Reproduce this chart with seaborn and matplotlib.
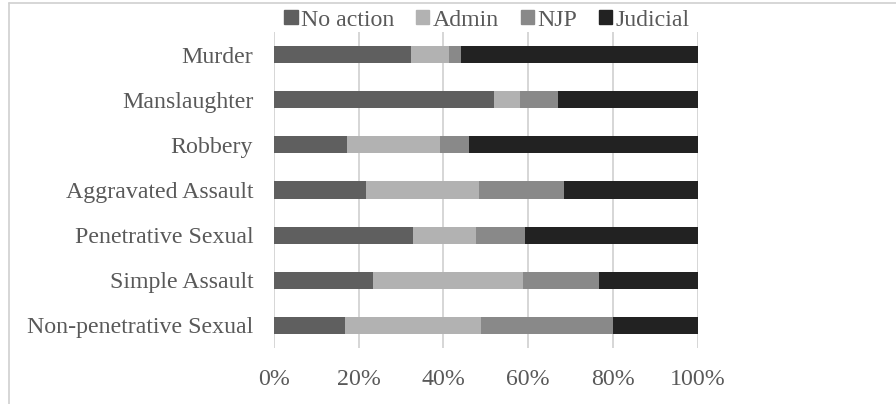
import matplotlib
matplotlib.use("Agg")
import matplotlib.pyplot as plt
import seaborn as sns
import pandas as pd
import numpy as np
from matplotlib.lines import Line2D
from matplotlib.patches import Patch

categories = ["Murder", "Manslaughter", "Robbery", "Aggravated Assault",
              "Penetrative Sexual", "Simple Assault", "Non-penetrative Sexual"]
no_action = [32.3, 51.9, 17.2, 21.8, 32.9, 23.4, 16.8]
admin     = [9.0, 6.2, 22.0, 26.5, 14.8, 35.3, 32.0]
njp       = [2.8, 8.9, 6.9, 20.1, 11.5, 17.9, 31.2]
judicial  = [55.9, 33.0, 53.9, 31.6, 40.8, 23.4, 20.0]
series_names = ["No action", "Admin", "NJP", "Judicial"]
tick_labels = ["0%", "20%", "40%", "60%", "80%", "100%"]

colors = ["#5f5f5f", "#b2b2b2", "#898989", "#222222"]

sns.set_theme(style="white")
plt.rcParams['font.family'] = ['Liberation Serif', 'DejaVu Serif']

fig = plt.figure(figsize=(8.96, 4.04), dpi=100)
ax = fig.add_axes([274/896, 1-348/404, (697.7-274)/896, (348-32)/404])

series = [no_action, admin, njp, judicial]
left = np.zeros(len(categories))
for i, (name, vals, c) in enumerate(zip(series_names, series, colors)):
    cum = left + np.array(vals)
    df = pd.DataFrame({"cat": categories, "cum": cum})
    sns.barplot(data=df, y="cat", x="cum", color=c, ax=ax, orient="h",
                width=0.38, order=categories, zorder=10 - i,
                linewidth=0, saturation=1)
    left = cum

ax.set_xlim(0, 100)
ax.set_ylim(6.5, -0.5)
ax.set_xticks([0, 20, 40, 60, 80, 100])
ax.set_xticklabels(tick_labels)
ax.set_xlabel("")
ax.set_ylabel("")
for s in ax.spines.values():
    s.set_visible(False)
ax.grid(axis="x", color="#d0d0d0", linewidth=1.2, zorder=0)
ax.set_axisbelow(True)
ax.tick_params(axis="both", length=0, labelsize=17.2, colors="#595959")
ax.tick_params(axis="x", pad=15)
ax.tick_params(axis="y", pad=15)
for lbl in ax.get_xticklabels() + ax.get_yticklabels():
    lbl.set_color("#595959")

handles = [Patch(facecolor=c, edgecolor=c) for c in colors]
fig.legend(handles, series_names, loc="center", bbox_to_anchor=(487/896, 1-20/404),
           ncol=4, frameon=False, fontsize=17.2, handlelength=0.55, handleheight=0.55,
           handletextpad=0.15, columnspacing=0.9, labelcolor="#595959")

fig.add_artist(Line2D([8.5/896, 1], [1-2.5/404, 1-2.5/404], color="#d0d0d0", linewidth=1.2,
                      transform=fig.transFigure))
fig.add_artist(Line2D([8.5/896, 8.5/896], [0, 1-2.5/404], color="#d0d0d0", linewidth=1.2,
                      transform=fig.transFigure))

fig.savefig("out.png", dpi=100)
